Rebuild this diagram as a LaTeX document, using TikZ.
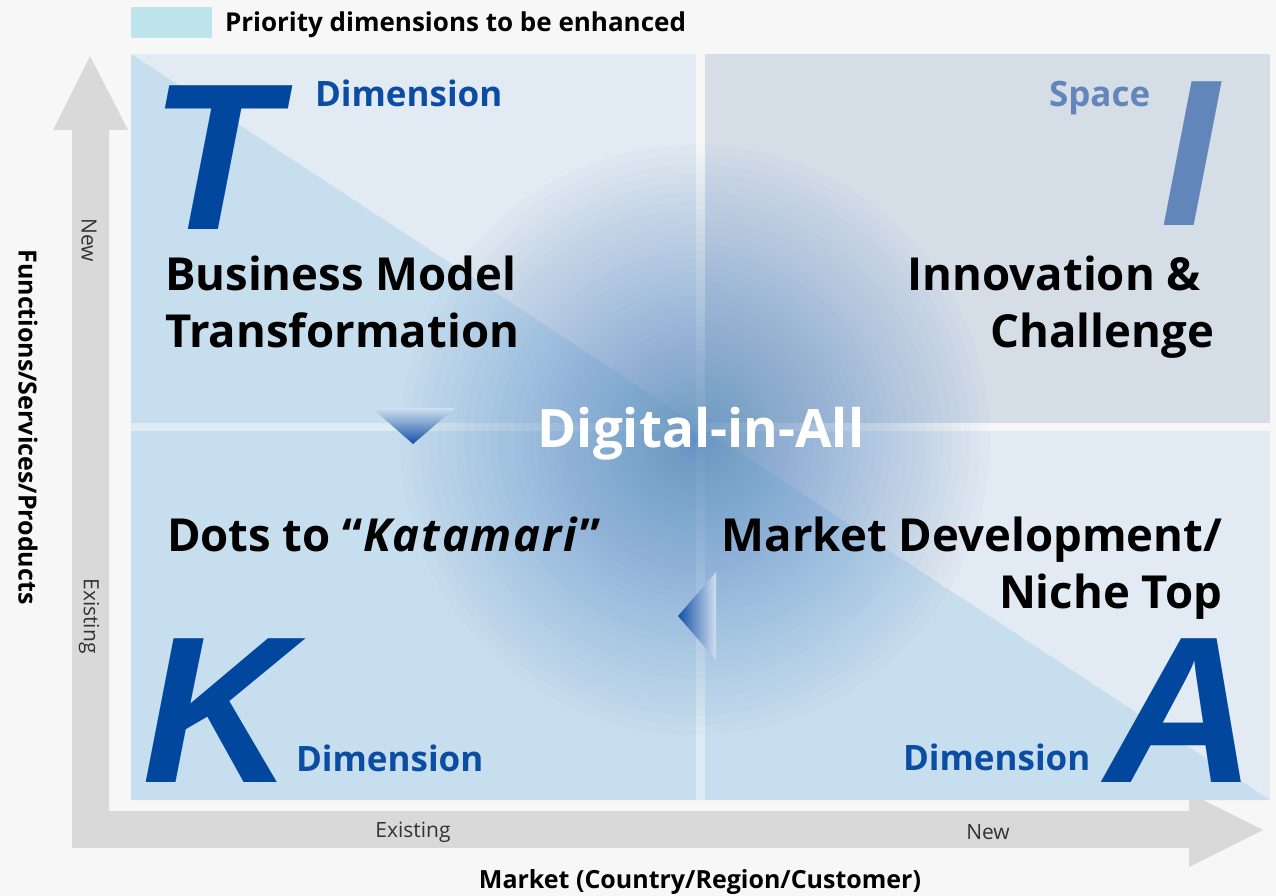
\documentclass[tikz,border=0pt]{standalone}
\usepackage{fontspec}
\setmainfont{Open Sans}
\newfontfamily\letterfont{Liberation Sans}
\definecolor{bgc}{HTML}{F7F7F7}
\definecolor{qlight}{HTML}{E2EAF3}
\definecolor{qgray}{HTML}{D5DDE7}
\definecolor{qblue}{HTML}{C6DEEE}
\definecolor{axisgray}{HTML}{D9D9D9}
\definecolor{legendc}{HTML}{BEE5EC}
\definecolor{dimblue}{HTML}{0B4DA2}
\definecolor{letterblue}{HTML}{00479D}
\definecolor{ilight}{HTML}{6286BA}
\definecolor{glowc}{HTML}{5A8EC6}
\definecolor{tridark}{HTML}{1450A5}
\definecolor{trilight}{HTML}{CFE0EF}
\definecolor{axistext}{HTML}{333333}
\tikzset{
  every node/.style={inner sep=0pt, outer sep=0pt},
  bigtext/.style={font=\bfseries\fontsize{45.5}{50}\selectfont, text=black},
  dimtext/.style={font=\bfseries\fontsize{35}{40}\selectfont, text=dimblue},
  bigletter/.style={font=\letterfont\bfseries\itshape\fontsize{209}{209}\selectfont, text=letterblue, text depth=0pt},
  axislabel/.style={font=\fontsize{21}{24}\selectfont, text=axistext},
  axistitle/.style={font=\bfseries\fontsize{25}{28}\selectfont, text=black},
  legendtext/.style={font=\bfseries\fontsize{26}{30}\selectfont, text=black},
  centertext/.style={font=\bfseries\fontsize{53}{58}\selectfont, text=white},
  glowring/.style={fill=glowc, fill opacity=0.026},
}
\begin{document}
\begin{tikzpicture}[x=1pt,y=-1pt]
\path[use as bounding box, fill=bgc] (0,0) rectangle (1276,896);
% legend
\fill[legendc] (131,7) rectangle (212,38);
\node[legendtext, anchor=base west] (legend) at (225,32) {Priority dimensions to be enhanced};
% axes
\fill[axisgray] (72,848) -- (72,130) -- (53,130) -- (90,56) -- (128,130) -- (109,130)
  -- (109,811) -- (1189,811) -- (1189,793) -- (1263,830) -- (1189,867) -- (1189,848) -- cycle;
% quadrants
\fill[qlight] (131,54) rectangle (696,423);
\fill[qgray] (705,54) rectangle (1270,423);
\fill[qblue] (131,431) rectangle (696,800);
\fill[qlight] (705,431) rectangle (1270,800);
\fill[qblue] (131,54) -- (1270,800) -- (131,800) -- cycle;
\begin{scope}
  \clip (131,54) -- (1270,800) -- (131,800) -- cycle;
  \fill[white, opacity=0.4] (696,54) rectangle (705,800);
  \fill[white, opacity=0.4] (131,423) rectangle (1270,431);
\end{scope}
% glow
\begin{scope}
  \clip (131,54) rectangle (1270,800);
  \foreach \i in {1,...,60} {
    \fill[glowring] (695,440) circle ({295*(\i/60)*(\i/60)});
  }
\end{scope}
% small arrows
\shade[top color=trilight, bottom color=tridark] (372,408) -- (455,408) -- (413,444) -- cycle;
\shade[left color=tridark, right color=trilight] (716,572) -- (716,660) -- (678,616) -- cycle;
% big letters
\node[bigletter, anchor=base west] (T) at (150,229) {T};
\node[bigletter, anchor=base west] (K) at (142,782) {K};
\node[bigletter, anchor=base west] (A) at (1105,782) {A};
\node[bigletter, text=ilight, anchor=base west] (I) at (1160,225) {I};
% dimension labels
\node[dimtext, anchor=base west] (dT) at (315,107) {Dimension};
\node[dimtext, text=ilight, anchor=base west] (dI) at (1049,107) {Space};
\node[dimtext, anchor=base west] (dK) at (296,771) {Dimension};
\node[dimtext, anchor=base west] (dA) at (903,770) {Dimension};
% quadrant titles
\node[bigtext, anchor=base west] (bm1) at (165,290) {Business Model};
\node[bigtext, anchor=base west] (bm2) at (165,347) {Transformation};
\node[bigtext, anchor=base east] (ic1) at (1201,290) {Innovation \&};
\node[bigtext, anchor=base east] (ic2) at (1214,347) {Challenge};
\node[bigtext, anchor=base west] (dk) at (167,551) {Dots to “\textit{\addfontfeature{LetterSpace=4}Katamari}”};
\node[bigtext, anchor=base east] (md1) at (1222,551) {Market Development/};
\node[bigtext, anchor=base east] (md2) at (1222,608) {Niche Top};
\node[centertext, anchor=base] (dia) at (701,447) {Digital-in-All};
% axis labels
\node[axislabel, rotate=-90] (vnew) at (89,240) {New};
\node[axislabel, rotate=-90] (vex) at (89,616) {Existing};
\node[axislabel] (hex) at (413,832) {Existing};
\node[axislabel] (hnew) at (988,832) {New};
\node[axistitle, rotate=-90] (ytitle) at (28,427) {Functions/Services/Products};
\node[axistitle] (xtitle) at (700,882) {Market (Country/Region/Customer)};
\end{tikzpicture}
\end{document}
